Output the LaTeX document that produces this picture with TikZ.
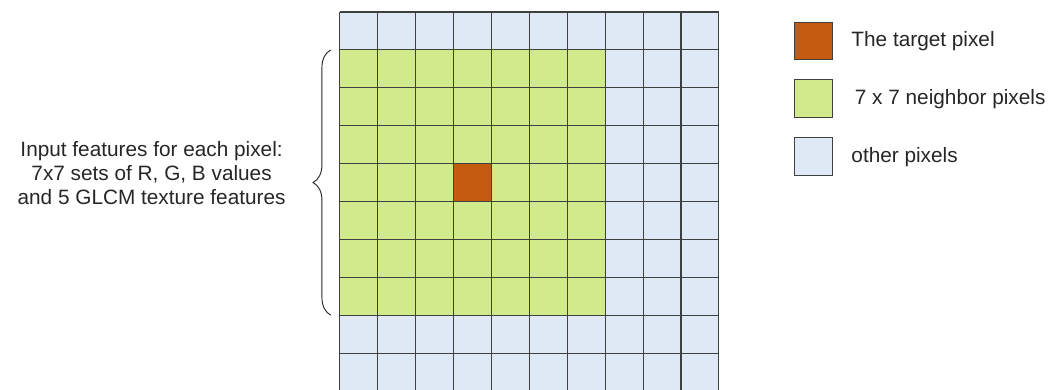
\documentclass[tikz,border=0pt]{standalone}
\usepackage{fontspec}
\setmainfont{Liberation Sans}
\usetikzlibrary{positioning,decorations.pathreplacing}
\definecolor{targetorange}{HTML}{C55A11}
\definecolor{neighborgreen}{HTML}{D0EA8C}
\definecolor{otherblue}{HTML}{DEE9F5}
\tikzset{
  pix/.style={draw=black!75, line width=0.8pt},
  legendbox/.style={pix, minimum size=1cm, inner sep=0pt},
  lbl/.style={font=\fontsize{15.6}{18}\selectfont, text=black!85},
}

\begin{document}
\begin{tikzpicture}
            \useasboundingbox (-8.97,0.03) rectangle (19.08,10.317);

            % Pixel patch
            \fill[otherblue] (0,0) rectangle (10,10);
            \fill[neighborgreen] (0,2) rectangle (7,9);
            \fill[targetorange] (3,5) rectangle (4,6);
            \draw[pix] (0,0) grid (10,10);

            % Legend
            \node[legendbox, fill=targetorange] (tgtkey) at (12.5,9.235) {};
            \node[legendbox, fill=neighborgreen, below=0.5cm of tgtkey] (nbrkey) {};
            \node[legendbox, fill=otherblue, below=0.5cm of nbrkey] (othkey) {};
            \node[lbl, right=0.36cm of tgtkey] (tgtlbl) {The target pixel};
            \node[lbl, right=0.45cm of nbrkey] (nbrlbl) {7 x 7 neighbor pixels};
            \node[lbl, right=0.36cm of othkey] (othlbl) {other pixels};

            % Input features
            \node[lbl, align=center] (featlbl) at (-4.97,5.75)
              {Input features for each pixel:\\7x7 sets of R, G, B values\\and 5 GLCM texture features};
            \coordinate (bracebot) at (-0.24,2);
            \coordinate (bracetop) at (-0.24,9);
            \draw[black!85, line width=0.7pt, decorate, decoration={brace, amplitude=0.47cm}] (bracebot) -- (bracetop);
        \end{tikzpicture}
\end{document}
